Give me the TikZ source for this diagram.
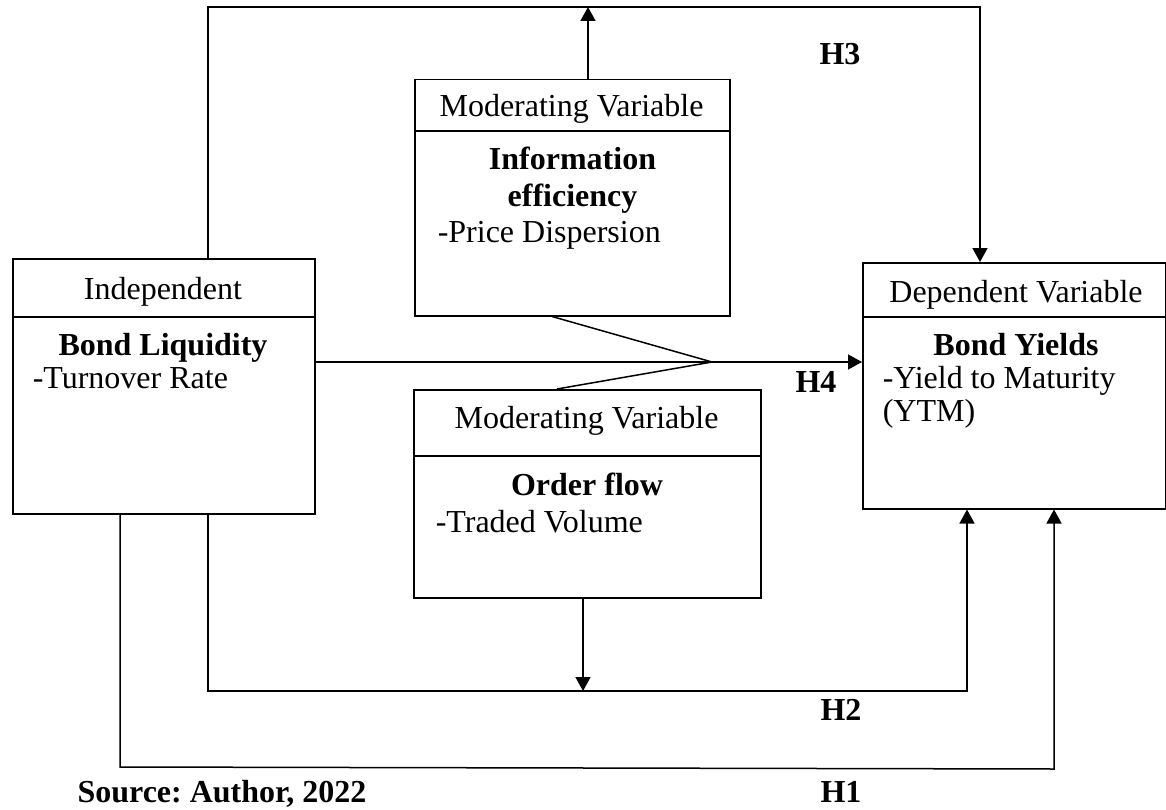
\documentclass[tikz,border=0pt]{standalone}
\usepackage{fontspec}
\setmainfont{Liberation Serif}
\usetikzlibrary{arrows.meta}
\frenchspacing
\begin{document}
\begin{tikzpicture}[x=1pt,y=-1pt,line width=1.5pt,
  box/.style={draw,line width=1.5pt,inner sep=0pt,anchor=north west},
  txt/.style={font=\fontsize{32}{38}\selectfont,inner sep=0pt,anchor=base},
  btxt/.style={font=\fontsize{32}{38}\selectfont\bfseries,inner sep=0pt,anchor=base},
  arr/.style={-{Triangle[width=15pt,length=14pt]}}]
\useasboundingbox (0,0) rectangle (1166,810);
% boxes
\node[box,minimum width=302pt,minimum height=255pt] (ind) at (12,258) {};
\node[box,minimum width=315pt,minimum height=236pt] (modA) at (414,79) {};
\node[box,minimum width=347pt,minimum height=208pt] (modB) at (413,389) {};
\node[box,minimum width=303pt,minimum height=246pt] (dep) at (862,262) {};
% header lines
\draw (ind.west |- 0,317) -- (ind.east |- 0,317);
\draw (modA.west |- 0,131) -- (modA.east |- 0,131);
\draw (modB.west |- 0,456) -- (modB.east |- 0,456);
\draw (dep.west |- 0,317) -- (dep.east |- 0,317);
% texts
\node[txt] (indh) at (163,299) {Independent};
\node[btxt] (indb) at (163,355) {Bond Liquidity};
\node[txt,anchor=base west] (indt) at (32,388) {-Turnover Rate};
\node[txt] (modAh) at (571.5,117) {Moderating Variable};
\node[btxt] (modAb1) at (572.5,170) {Information};
\node[btxt] (modAb2) at (572.5,207) {efficiency};
\node[txt,anchor=base west] (modAt) at (437,243) {-Price Dispersion};
\node[txt] (modBh) at (586.5,428) {Moderating Variable};
\node[btxt] (modBb) at (587,495) {Order flow};
\node[txt,anchor=base west] (modBt) at (435,532) {-Traded Volume};
\node[txt] (deph) at (1016,302) {Dependent Variable};
\node[btxt] (depb) at (1016,355) {Bond Yields};
\node[txt,anchor=base west] (dept1) at (882,388) {-Yield to Maturity};
\node[txt,anchor=base west] (dept2) at (882,421) {(YTM)};
\node[btxt] (h3) at (840,65) {H3};
\node[btxt] (h4) at (816,392) {H4};
\node[btxt] (h2) at (841,720) {H2};
\node[btxt] (h1) at (841,802) {H1};
\node[btxt] (src) at (222,802) {Source: Author, 2022};
% top connector (H3)
\coordinate (t1) at (208,7);
\coordinate (t2) at (980,7);
\coordinate (t3) at (588,7);
\draw[arr] (ind.north -| t1) -- (t1) -- (t2) -- (dep.north -| t2);
\draw[arr] (modA.north -| t3) -- (t3);
% H4
\coordinate (m) at (712,362);
\draw[arr] (ind.east |- m) -- (dep.west |- m);
\draw (modA.south -| 552,0) -- (m) -- (modB.north -| 557,0);
% H2
\coordinate (b1) at (208,691);
\coordinate (b2) at (967,691);
\coordinate (b3) at (583,691);
\draw[arr] (ind.south -| b1) -- (b1) -- (b2) -- (dep.south -| b2);
\draw[arr] (modB.south -| b3) -- (b3);
% H1
\coordinate (c1) at (120,767);
\coordinate (c2) at (1054,769);
\draw[arr] (ind.south -| c1) -- (c1) -- (c2) -- (dep.south -| c2);
\end{tikzpicture}
\end{document}
